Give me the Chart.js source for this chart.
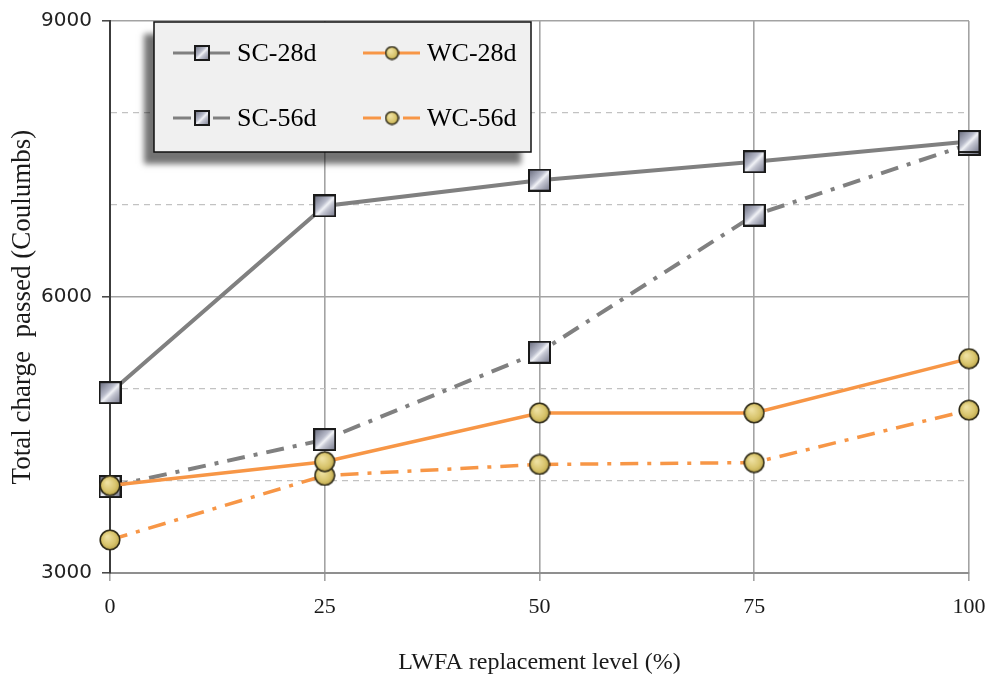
<!DOCTYPE html>
<html>
<head>
<meta charset="utf-8">
<script src="https://cdn.jsdelivr.net/npm/chart.js@4.4.1/dist/chart.umd.min.js"></script>
<style>
html,body{margin:0;padding:0;background:#ffffff;}
#wrap{width:988px;height:677px;position:relative;}
</style>
</head>
<body>
<div id="wrap"><canvas id="c" width="988" height="677"></canvas></div>
<script>
// ---- data ----
const replacementLevels = [0, 25, 50, 75, 100];
const sc28d = [4960, 6990, 7270, 7470, 7690];
const sc56d = [3940, 4450, 5400, 6890, 7660];
const wc28d = [3950, 4210, 4740, 4740, 5330];
const wc56d = [3360, 4060, 4180, 4200, 4770];
const seriesNames = ['SC-28d', 'SC-56d', 'WC-28d', 'WC-56d'];
const yTickLabels = [3000, 6000, 9000];
const xTitle = 'LWFA replacement level (%)';
const yTitle = 'Total charge  passed (Coulumbs)   ';

// ---- marker images ----
function makeSquare(size) {
  const c = document.createElement('canvas');
  c.width = size; c.height = size;
  const g = c.getContext('2d');
  const grad = g.createLinearGradient(0, 0, size, size);
  grad.addColorStop(0, '#5d6072');
  grad.addColorStop(0.42, '#b9bccb');
  grad.addColorStop(0.52, '#f2f3f7');
  grad.addColorStop(0.62, '#c4c6d2');
  grad.addColorStop(1, '#6b6e82');
  g.fillStyle = grad;
  g.fillRect(1, 1, size - 2, size - 2);
  g.strokeStyle = '#1a1a1a';
  g.lineWidth = 2;
  g.strokeRect(1, 1, size - 2, size - 2);
  return c;
}
function makeCircle(size) {
  const c = document.createElement('canvas');
  c.width = size; c.height = size;
  const g = c.getContext('2d');
  const r = size / 2;
  const grad = g.createRadialGradient(r * 0.75, r * 0.7, 1, r, r, r);
  grad.addColorStop(0, '#eee0a0');
  grad.addColorStop(0.6, '#d8c46c');
  grad.addColorStop(1, '#b29c40');
  g.beginPath();
  g.arc(r, r, r - 1.2, 0, Math.PI * 2);
  g.fillStyle = grad;
  g.fill();
  g.strokeStyle = '#2e2a18';
  g.lineWidth = 1.6;
  g.stroke();
  return c;
}
const sqBig = makeSquare(23), sqSmall = makeSquare(16);
const ciBig = makeCircle(22), ciSmall = makeCircle(15);

const GRAY = '#808080', ORANGE = '#f79646';
const DASHDOT = [18, 9, 4, 9];

function pts(arr) { return replacementLevels.map((x, i) => ({x: x, y: arr[i]})); }

const datasets = [
  {label: seriesNames[2], data: pts(wc28d), borderColor: ORANGE, borderWidth: 3.5, pointStyle: ciBig, borderDash: [], _small: ciSmall},
  {label: seriesNames[3], data: pts(wc56d), borderColor: ORANGE, borderWidth: 3.5, pointStyle: ciBig, borderDash: DASHDOT, _small: ciSmall},
  {label: seriesNames[0], data: pts(sc28d), borderColor: GRAY, borderWidth: 4, pointStyle: sqBig, borderDash: [], _small: sqSmall},
  {label: seriesNames[1], data: pts(sc56d), borderColor: GRAY, borderWidth: 4, pointStyle: sqBig, borderDash: DASHDOT, _small: sqSmall}
].map(d => Object.assign(d, {tension: 0, fill: false, clip: false, pointRadius: 11, pointHoverRadius: 11, borderCapStyle: 'butt'}));

// ---- custom legend (2 x 2 boxed, with shadow) ----
const legendPlugin = {
  id: 'boxLegend',
  afterDraw(chart) {
    const ctx = chart.ctx;
    const bx = 154, by = 22, bw = 377, bh = 130;
    ctx.save();
    ctx.shadowColor = 'rgba(0,0,0,0.55)';
    ctx.shadowBlur = 6;
    ctx.shadowOffsetX = -10;
    ctx.shadowOffsetY = 12;
    ctx.fillStyle = '#f0f0f0';
    ctx.fillRect(bx, by, bw, bh);
    ctx.restore();
    ctx.save();
    ctx.strokeStyle = '#111111';
    ctx.lineWidth = 1.5;
    ctx.strokeRect(bx, by, bw, bh);
    const order = [
      {name: seriesNames[0], col: 0, row: 0},
      {name: seriesNames[2], col: 1, row: 0},
      {name: seriesNames[1], col: 0, row: 1},
      {name: seriesNames[3], col: 1, row: 1}
    ];
    const colX = [173, 363];
    const rowY = [53, 118];
    order.forEach(o => {
      const ds = chart.data.datasets.find(d => d.label === o.name);
      const x0 = colX[o.col], y = rowY[o.row];
      ctx.save();
      ctx.strokeStyle = ds.borderColor;
      ctx.lineWidth = 3;
      ctx.setLineDash(ds.borderDash || []);
      ctx.beginPath();
      ctx.moveTo(x0, y);
      ctx.lineTo(x0 + 57, y);
      ctx.stroke();
      ctx.restore();
      const img = ds._small;
      ctx.drawImage(img, x0 + 29 - img.width / 2, y - img.height / 2);
      ctx.fillStyle = '#000000';
      ctx.font = '26px "Liberation Serif"';
      ctx.textBaseline = 'middle';
      ctx.textAlign = 'left';
      ctx.fillText(o.name, x0 + 64, y + 1);
    });
    ctx.restore();
  }
};

const mult3 = v => Math.round(v) % 3000 === 0;

new Chart(document.getElementById('c'), {
  type: 'line',
  data: {datasets: datasets},
  options: {
    responsive: false,
    animation: false,
    events: [],
    layout: {padding: {top: 21, right: 19, left: 0, bottom: 0}},
    plugins: {legend: {display: false}, tooltip: {enabled: false}},
    scales: {
      x: {
        type: 'linear', min: 0, max: 100,
        afterFit: s => { s.height = 104; s.paddingLeft = 0; s.paddingRight = 0; },
        afterBuildTicks: s => { s.ticks = replacementLevels.map(v => ({value: v})); },
        ticks: {stepSize: 25, padding: 13, color: '#1a1a1a', font: {family: '"Liberation Serif"', size: 22}},
        grid: {
          color: c => (c.tick && c.tick.value === 0) ? 'rgba(0,0,0,0)' : '#a3a3a3',
          lineWidth: 1.6, tickLength: 8, tickWidth: 1.6,
          tickColor: '#a3a3a3'
        },
        border: {color: '#8f8f8f', width: 2},
        title: {display: true, text: xTitle, color: '#1a1a1a', font: {family: '"Liberation Serif"', size: 24}, padding: {top: 0, bottom: 0}}
      },
      y: {
        min: 3000, max: 9000,
        afterFit: s => { s.width = 110; s.paddingTop = 0; s.paddingBottom = 0; },
        ticks: {
          stepSize: 1000, padding: 10, color: '#222222',
          font: {family: '"DejaVu Sans"', size: 20},
          callback: v => yTickLabels.includes(v) ? String(v) : ''
        },
        grid: {
          color: c => {
            if (!c.tick) return '#a3a3a3';
            if (c.tick.value === 3000) return 'rgba(0,0,0,0)';
            return mult3(c.tick.value) ? '#a3a3a3' : '#c2c2c2';
          },
          lineWidth: c => (c.tick && !mult3(c.tick.value)) ? 1.2 : 1.6,
          tickLength: 8, tickWidth: 1.5,
          tickColor: c => (c.tick && mult3(c.tick.value)) ? '#404040' : 'rgba(0,0,0,0)'
        },
        border: {
          color: '#3c3c3c', width: 2,
          dash: c => (c.tick && !mult3(c.tick.value)) ? [6, 5] : []
        },
        title: {display: true, text: yTitle, color: '#1a1a1a', font: {family: '"Liberation Serif"', size: 27}, padding: {top: 7, bottom: 0}}
      }
    }
  },
  plugins: [legendPlugin]
});
</script>
</body>
</html>
